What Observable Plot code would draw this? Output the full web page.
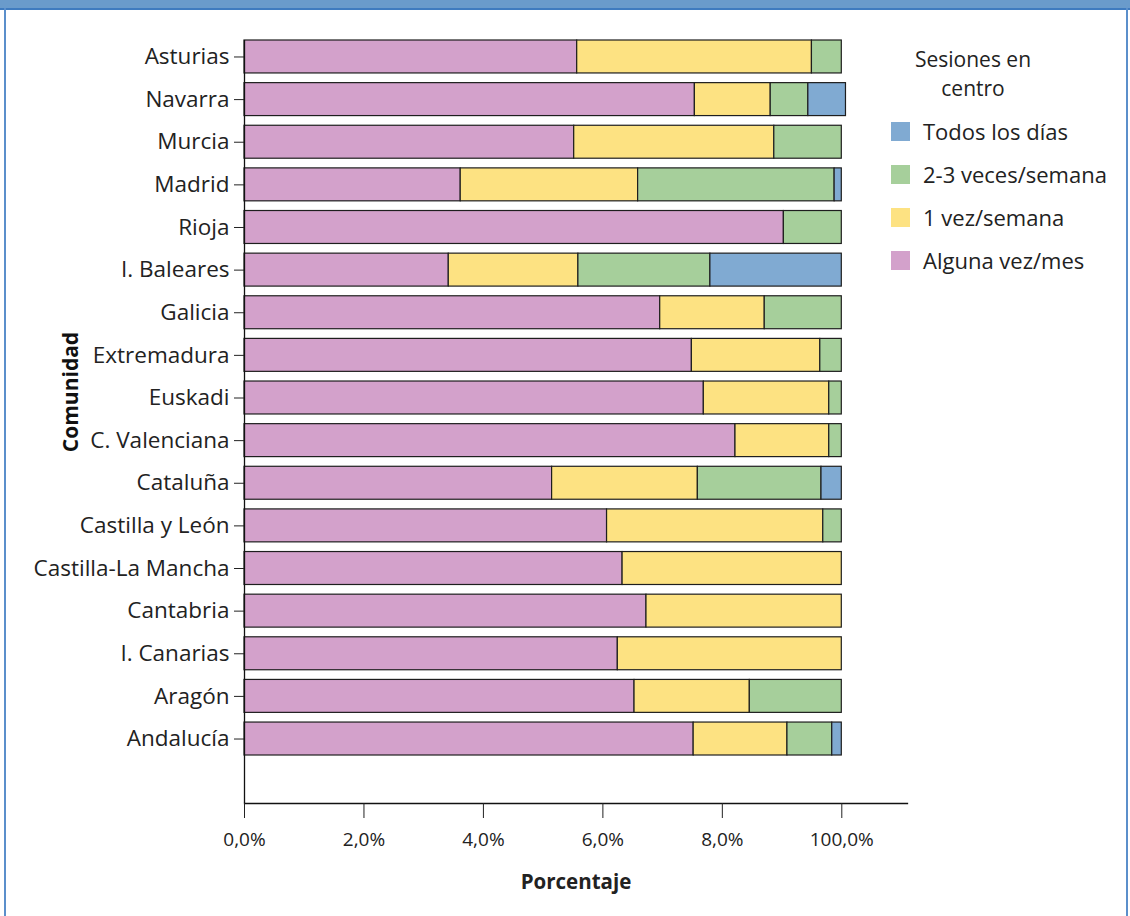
<!DOCTYPE html>
<html>
<head>
<meta charset="utf-8">
<script src="https://cdn.jsdelivr.net/npm/d3@7"></script>
<script src="https://cdn.jsdelivr.net/npm/@observablehq/plot@0.6"></script>
<style>
  html, body { margin: 0; padding: 0; background: #fff; }
  #wrap { position: relative; width: 1130px; height: 916px; overflow: hidden; font-family: "Open Sans", sans-serif; color: #222; }
  #topbar { position: absolute; left: 0; top: 0; width: 1130px; height: 8px; background: #6A9BCB; border-bottom: 2px solid #3F7BBF; }
  #lborder { position: absolute; left: 4px; top: 8px; bottom: 0; width: 2px; background: #5B8FCB; }
  #rborder { position: absolute; left: 1126px; top: 8px; bottom: 0; width: 2px; background: #5B8FCB; }
  #chart { position: absolute; left: 0; top: 0; }
  #legend { position: absolute; left: 880px; top: 46px; width: 245px; font-size: 22px; color: #222; }
  #legend .title { position: absolute; left: 0; width: 186px; text-align: center; font-size: 21px; line-height: 29px; }
  #legend .item { position: absolute; left: 11px; height: 20px; display: flex; align-items: center; white-space: nowrap; }
  #legend .sw { width: 19px; height: 19px; margin-right: 13px; flex: none; }
  #ylabel { position: absolute; left: 70px; top: 392px; transform: translate(-50%, -50%) rotate(-90deg); font-weight: bold; font-size: 21px; white-space: nowrap; color: #111; }
  g[aria-label="x-axis label"] text { font-weight: bold; }
</style>
</head>
<body>
<div id="wrap">
  <div id="chart"></div>
  <div id="topbar"></div>
  <div id="lborder"></div>
  <div id="rborder"></div>
  <div id="legend"></div>
  <div id="ylabel">Comunidad</div>
</div>
<script>
// Categories (top to bottom)
const comunidades = ["Asturias","Navarra","Murcia","Madrid","Rioja","I. Baleares","Galicia","Extremadura","Euskadi","C. Valenciana","Cataluña","Castilla y León","Castilla-La Mancha","Cantabria","I. Canarias","Aragón","Andalucía"];

// Series (stack order left to right)
const series = ["Alguna vez/mes","1 vez/semana","2-3 veces/semana","Todos los días"];
const seriesColors = ["#D3A1CB","#FDE282","#A6CF9B","#80AAD2"];

// Values (percent) per series
const algunaVezMes   = [55.7,75.4,55.2,36.2,90.3,34.2,69.6,74.9,76.9,82.2,51.5,60.7,63.3,67.3,62.5,65.3,75.2];
const unaVezSemana   = [39.3,12.7,33.5,29.7, 0.0,21.7,17.5,21.5,21.0,15.7,24.4,36.2,36.7,32.7,37.5,19.3,15.7];
const dosTresSemana  = [ 5.0, 6.3,11.3,32.9, 9.7,22.1,12.9, 3.6, 2.1, 2.1,20.7, 3.1, 0.0, 0.0, 0.0,15.4, 7.5];
const todosLosDias   = [ 0.0, 6.3, 0.0, 1.2, 0.0,22.0, 0.0, 0.0, 0.0, 0.0, 3.4, 0.0, 0.0, 0.0, 0.0, 0.0, 1.6];

// Axis ticks
const xTickValues = [0,20,40,60,80,100];
const xTickLabels = ["0,0%","2,0%","4,0%","6,0%","8,0%","100,0%"];

// Legend order (top to bottom)
const legendOrder = ["Todos los días","2-3 veces/semana","1 vez/semana","Alguna vez/mes"];

const valuesBySeries = [algunaVezMes, unaVezSemana, dosTresSemana, todosLosDias];
const data = [];
comunidades.forEach((c, i) => {
  series.forEach((s, j) => {
    const v = valuesBySeries[j][i];
    if (v > 0) data.push({comunidad: c, serie: s, valor: v});
  });
});
const tickLabelMap = new Map(xTickValues.map((v, i) => [v, xTickLabels[i]]));

const chart = Plot.plot({
  width: 1130,
  height: 916,
  marginLeft: 244,
  marginRight: 223,
  marginTop: 40,
  marginBottom: 113,
  style: {fontFamily: "'Open Sans', sans-serif", fontSize: "19px", color: "#222", background: "transparent"},
  x: {domain: [0, 111]},
  y: {domain: comunidades, paddingInner: 0.227, paddingOuter: 0, round: false, insetBottom: 48},
  color: {domain: series, range: seriesColors},
  marks: [
    Plot.barX(data, {x: "valor", y: "comunidad", fill: "serie", order: series, stroke: "#1e1e1e", strokeWidth: 1.2}),
    Plot.ruleX([0], {stroke: "#111", strokeWidth: 1.3}),
    Plot.frame({anchor: "bottom", stroke: "#111", strokeWidth: 1.3}),
    Plot.axisY({tickSize: 10, tickPadding: 5, fontSize: 22.5, label: null}),
    Plot.axisX({ticks: xTickValues, tickFormat: d => tickLabelMap.get(d), tickSize: 15, tickPadding: 14, label: "Porcentaje", labelAnchor: "center", labelOffset: 85, labelArrow: false, fontSize: 20.5})
  ]
});
document.getElementById("chart").appendChild(chart);
// keep x tick labels at their own size
chart.querySelectorAll('g[aria-label="x-axis tick label"]').forEach(g => g.setAttribute("font-size", "19"));

// Legend
const legend = document.getElementById("legend");
const title = document.createElement("div");
title.className = "title";
title.style.top = "-1px";
title.innerHTML = "Sesiones en<br>centro";
legend.appendChild(title);
legendOrder.forEach((s, k) => {
  const item = document.createElement("div");
  item.className = "item";
  item.style.top = (75 + k * 43) + "px";
  const sw = document.createElement("div");
  sw.className = "sw";
  sw.style.background = seriesColors[series.indexOf(s)];
  const t = document.createElement("span");
  t.textContent = s;
  item.appendChild(sw);
  item.appendChild(t);
  legend.appendChild(item);
});
</script>
</body>
</html>
